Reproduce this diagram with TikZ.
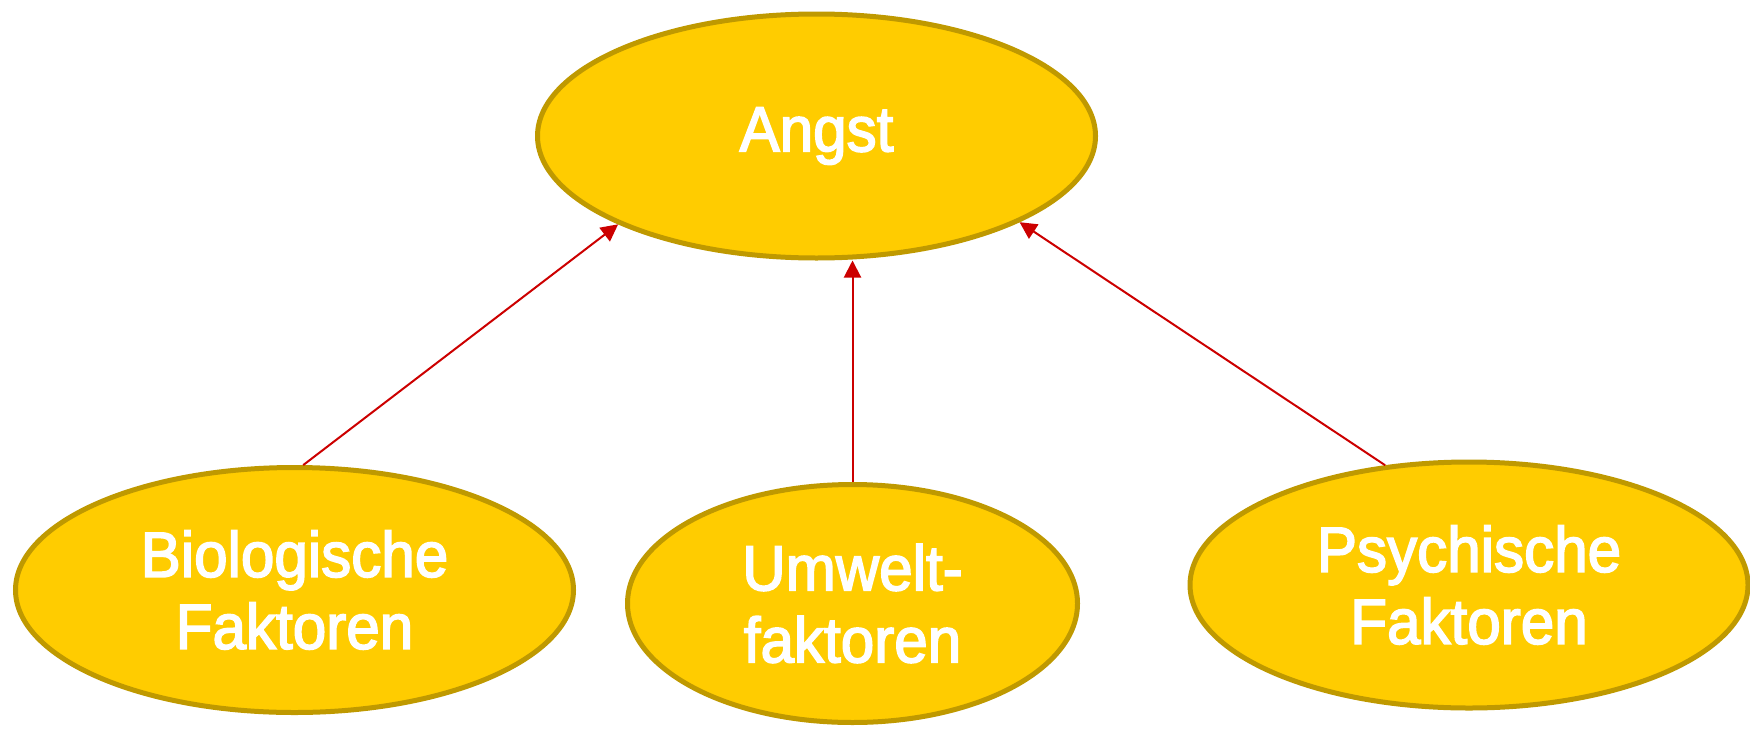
\documentclass[tikz,border=0pt]{standalone}
\usepackage{fontspec}
\setmainfont{Liberation Sans}
\newfontfamily\labelfont{Liberation Sans}[FakeBold=2.5, FakeStretch=0.94]
\usetikzlibrary{shapes.geometric,arrows.meta}
\definecolor{fillc}{HTML}{FFCC00}
\definecolor{borderc}{HTML}{BF9900}
\definecolor{arrc}{HTML}{CC0000}
\tikzset{
  ell/.style={ellipse, draw=borderc, line width=5pt, fill=fillc, text=white,
    align=center, inner sep=0pt, font=\labelfont\fontsize{64}{72}\selectfont},
  arr/.style={draw=arrc, line width=2pt, -{Triangle[length=17pt,width=17pt]}}
}
\begin{document}
\begin{tikzpicture}
\useasboundingbox (0pt,0pt) rectangle (1750pt,-728pt);
\node[ell, minimum width=558pt, minimum height=244pt] (angst) at (816.5pt,-136pt) {Angst};
\node[ell, minimum width=558pt, minimum height=245pt] (bio) at (294.5pt,-590pt) {Biologische\\Faktoren};
\node[ell, minimum width=450pt, minimum height=238pt] (umw) at (852.5pt,-603.5pt) {Umwelt-\\faktoren};
\node[ell, minimum width=558pt, minimum height=246pt] (psy) at (1469pt,-585pt) {Psychische\\Faktoren};
\draw[arr] (bio.86) -- (angst.204);
\draw[arr] (umw.north) -- (umw.north |- angst.south);
\draw[arr] (psy.125) -- (angst.337);
\end{tikzpicture}
\end{document}
